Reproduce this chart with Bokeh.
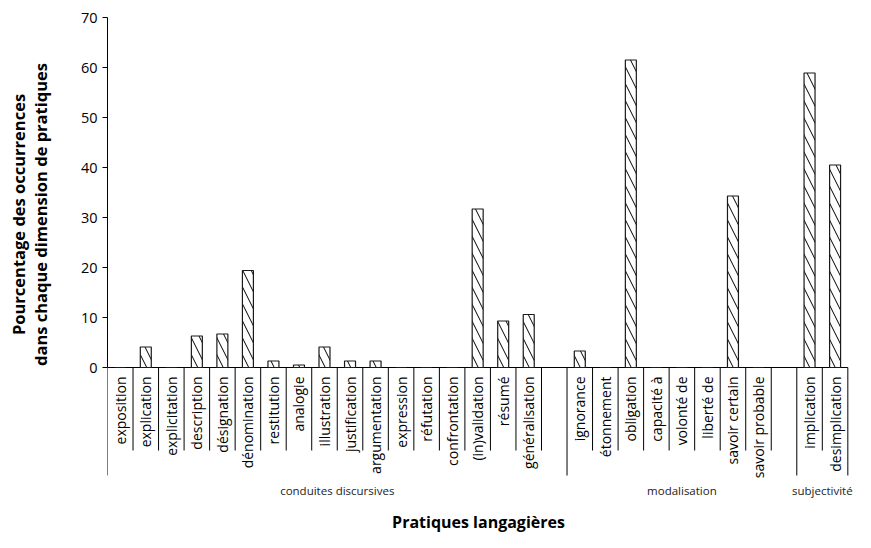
import math
from bokeh.plotting import figure
from bokeh.layouts import row
from bokeh.models import Range1d, FixedTicker
from bokeh.core.properties import value
from bokeh.embed import file_html
from bokeh.resources import INLINE

# ---------------- data ----------------
group_names = ["conduites discursives", "modalisation", "subjectivité"]

conduites_cats = ["exposition", "explication", "explicitation", "description", "désignation",
                  "dénomination", "restitution", "analogie", "illustration", "justification",
                  "argumentation", "expression", "réfutation", "confrontation", "(in)validation",
                  "résumé", "généralisation"]
conduites_vals = [0, 4.1, 0, 6.3, 6.7, 19.4, 1.3, 0.5, 4.1, 1.3, 1.3, 0, 0, 0, 31.7, 9.3, 10.6]

modal_cats = ["ignorance", "étonnement", "obligation", "capacité à", "volonté de",
              "liberté de", "savoir certain", "savoir probable"]
modal_vals = [3.3, 0, 61.5, 0, 0, 0, 34.3, 0]

subj_cats = ["implication", "desimplication"]
subj_vals = [58.9, 40.5]

y_ticks = [0, 10, 20, 30, 40, 50, 60, 70]
y_title_lines = ["Pourcentage des occurrences", "dans chaque dimension de pratiques"]
x_title = "Pratiques langagières"

# groups (the first two carry a blank category at their end, as in the original)
groups = [
    (group_names[0], conduites_cats + [""], conduites_vals + [None]),
    (group_names[1], modal_cats + [""], modal_vals + [None]),
    (group_names[2], subj_cats, subj_vals),
]

# ---------------- layout ----------------
W, H = 855, 532
LW = 60              # width of the strip holding the y title
FRAME_LEFT = 107     # page x of the plotting frame's left edge
XMAX = 29.3
PX_PER_Y = 5.0
Y0_PX = 367          # page row of y = 0
y_top = Y0_PX / PX_PER_Y
y_bot = -(H - Y0_PX) / PX_PER_Y
slot_px = (W - FRAME_LEFT) / XMAX
FONT = "Open Sans"

def dy(px):  # pixels below the axis -> data units
    return -px / PX_PER_Y

def dx(page_x):  # page x -> data x
    return (page_x - FRAME_LEFT) / slot_px

# ---- strip with the two-line y title ----
t = figure(width=LW, height=H, output_backend="svg", toolbar_location=None,
           x_range=Range1d(0, LW), y_range=Range1d(0, H),
           x_axis_location=None, y_axis_location=None, title=None,
           min_border=0)
t.outline_line_color = None
t.grid.visible = False
t.text(x=[18, 40], y=[H - 214, H - 214], text=y_title_lines, angle=math.pi / 2,
       text_align="center", text_baseline="middle", text_font=value(FONT),
       text_font_size=value("16.5px"), text_font_style="bold", text_color="black")

# ---- main chart ----
p = figure(width=W - LW, height=H, output_backend="svg", toolbar_location=None,
           x_range=Range1d(0, XMAX), y_range=Range1d(y_bot, y_top),
           x_axis_location=None, title=None,
           min_border_left=FRAME_LEFT - LW, min_border_right=0,
           min_border_top=0, min_border_bottom=0)
p.outline_line_color = None
p.grid.visible = False

yax = p.yaxis[0]
yax.bounds = (y_ticks[0], y_ticks[-1])
yax.ticker = FixedTicker(ticks=y_ticks)
yax.minor_tick_line_color = None
yax.major_tick_in = 0
yax.major_tick_out = 5
yax.major_label_standoff = 5
yax.axis_line_color = "black"
yax.major_tick_line_color = "black"
yax.major_label_text_font = FONT
yax.major_label_text_font_size = "14.5px"
yax.major_label_text_color = "black"

# build slot lists
xs, tops, labels, seps_x, seps_long = [], [], [], [], []
group_centers = []
i = 0
for gname, cats, vals in groups:
    start = i
    seps_x.append(i); seps_long.append(True)
    for j, (c, v) in enumerate(zip(cats, vals)):
        if j > 0:
            seps_x.append(i); seps_long.append(False)
        if v is not None:
            xs.append(i + 0.5); tops.append(v)
        if c:
            labels.append((i + 0.5, c))
        i += 1
    group_centers.append(((start + i) / 2, gname))
seps_x.append(i); seps_long.append(True)
n_slots = i

# x axis line
p.segment(x0=[0], y0=[0], x1=[n_slots], y1=[0], line_color="black", line_width=1)

# category separators
SHORT, LONG = 83, 108
p.segment(x0=seps_x, y0=[0] * len(seps_x), x1=seps_x,
          y1=[dy(LONG if l else SHORT) for l in seps_long],
          line_color="black", line_width=1)

# bars
p.vbar(x=xs, top=tops, bottom=0, width=0.43, fill_color="white",
       line_color="#1a1a1a", line_width=1.2,
       hatch_pattern="\\", hatch_color="black", hatch_scale=17, hatch_weight=1)

# category labels
p.text(x=[l[0] for l in labels], y=[dy(9)] * len(labels), text=[l[1] for l in labels],
       angle=math.pi / 2, text_align="right", text_baseline="middle",
       text_font=value(FONT), text_font_size=value("14px"), text_color="black")

# group labels
p.text(x=[g[0] for g in group_centers], y=[dy(123)] * len(group_centers),
       text=[g[1] for g in group_centers], text_align="center", text_baseline="middle",
       text_font=value(FONT), text_font_size=value("11.5px"), text_color="#222222")

# x title
p.text(x=[dx(478)], y=[dy(154)], text=[x_title], text_align="center", text_baseline="middle",
       text_font=value(FONT), text_font_size=value("16px"), text_font_style="bold",
       text_color="black")

layout = row(t, p, spacing=0)
open("out.html", "w").write(file_html(layout, INLINE))
